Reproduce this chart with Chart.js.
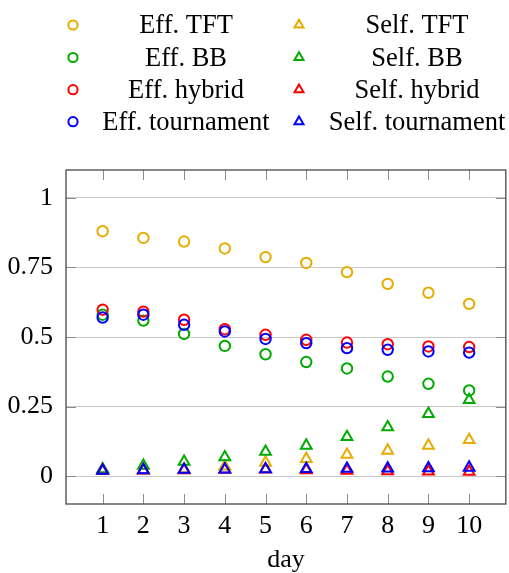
<!DOCTYPE html>
<html>
<head>
<meta charset="utf-8">
<script src="https://cdn.jsdelivr.net/npm/chart.js@4/dist/chart.umd.min.js"></script>
<style>
  html, body { margin: 0; padding: 0; background: #fff; overflow: hidden; }
  #wrap { width: 514px; height: 573px; }
</style>
</head>
<body>
<div id="wrap"><canvas id="chart" width="514" height="573"></canvas></div>
<script>
// data
const days = [1, 2, 3, 4, 5, 6, 7, 8, 9, 10];
const yTicks = [0, 0.25, 0.5, 0.75, 1];

const effTFT        = [0.880, 0.856, 0.843, 0.818, 0.787, 0.766, 0.733, 0.691, 0.659, 0.619];
const effBB         = [0.580, 0.559, 0.511, 0.468, 0.438, 0.410, 0.387, 0.358, 0.332, 0.308];
const effHybrid     = [0.598, 0.591, 0.562, 0.528, 0.508, 0.490, 0.480, 0.474, 0.466, 0.464];
const effTournament = [0.570, 0.580, 0.544, 0.520, 0.493, 0.478, 0.460, 0.454, 0.448, 0.444];

const selfTFT        = [0.020, 0.022, 0.025, 0.035, 0.049, 0.062, 0.077, 0.092, 0.110, 0.130];
const selfBB         = [0.025, 0.038, 0.052, 0.068, 0.088, 0.110, 0.141, 0.176, 0.224, 0.274];
const selfHybrid     = [0.020, 0.021, 0.022, 0.023, 0.024, 0.022, 0.020, 0.018, 0.017, 0.016];
const selfTournament = [0.020, 0.022, 0.023, 0.024, 0.025, 0.026, 0.027, 0.028, 0.029, 0.031];

const ORANGE = "#e6ad00";
const GREEN = "#00aa00";
const RED = "#ff0000";
const BLUE = "#0000ff";
const FONT = "'Liberation Serif', 'DejaVu Serif', serif";

function pts(vals){ return vals.map((v, i) => ({x: days[i], y: v})); }

function series(label, vals, color, style, idx){
  return {
    label,
    data: pts(vals),
    borderColor: color,
    backgroundColor: "rgba(0,0,0,0)",
    pointStyle: style,
    pointRadius: style === "circle" ? 5.2 : 6.2,
    pointBorderWidth: 2,
    showLine: false,
    order: 10 - idx // later series on top, as in the original
  };
}

const datasets = [
  series("Eff. TFT", effTFT, ORANGE, "circle", 0),
  series("Eff. BB", effBB, GREEN, "circle", 1),
  series("Eff. hybrid", effHybrid, RED, "circle", 2),
  series("Eff. tournament", effTournament, BLUE, "circle", 3),
  series("Self. TFT", selfTFT, ORANGE, "triangle", 4),
  series("Self. BB", selfBB, GREEN, "triangle", 5),
  series("Self. hybrid", selfHybrid, RED, "triangle", 6),
  series("Self. tournament", selfTournament, BLUE, "triangle", 7)
];

// frame, inward tick marks and the two-column legend
const framePlugin = {
  id: "frame",
  afterDatasetsDraw(chart){
    const {ctx, chartArea: a, scales: {x, y}} = chart;
    ctx.save();
    ctx.strokeStyle = "#8c8c8c";
    ctx.lineWidth = 1;
    ctx.beginPath();
    days.forEach(d => {
      const px = Math.round(x.getPixelForValue(d)) + 0.5;
      ctx.moveTo(px, a.bottom); ctx.lineTo(px, a.bottom - 10);
      ctx.moveTo(px, a.top); ctx.lineTo(px, a.top + 10);
    });
    yTicks.forEach(t => {
      const py = Math.round(y.getPixelForValue(t)) + 0.5;
      ctx.moveTo(a.left, py); ctx.lineTo(a.left + 10, py);
      ctx.moveTo(a.right, py); ctx.lineTo(a.right - 10, py);
    });
    ctx.stroke();
    ctx.strokeStyle = "#555";
    ctx.lineWidth = 1.4;
    ctx.strokeRect(a.left, a.top, a.right - a.left, a.bottom - a.top);
    ctx.restore();
  },
  afterDraw(chart){
    const ctx = chart.ctx;
    const cols = [{mark: 73, text: 186}, {mark: 299, text: 417}];
    const rows = [33, 65.5, 97.7, 129.7];
    ctx.save();
    ctx.font = "26.5px " + FONT;
    ctx.textAlign = "center";
    ctx.textBaseline = "alphabetic";
    chart.data.datasets.forEach((ds, i) => {
      const c = cols[Math.floor(i / 4)];
      const base = rows[i % 4];
      const cy = base - 8;
      ctx.strokeStyle = ds.borderColor;
      ctx.lineWidth = 2;
      ctx.beginPath();
      if (ds.pointStyle === "circle") {
        ctx.arc(c.mark, cy, 4.6, 0, Math.PI * 2);
      } else {
        const r = 5.2;
        ctx.moveTo(c.mark, cy - r);
        ctx.lineTo(c.mark + r * 0.866, cy + r / 2);
        ctx.lineTo(c.mark - r * 0.866, cy + r / 2);
        ctx.closePath();
      }
      ctx.stroke();
      ctx.fillStyle = "#000";
      ctx.fillText(ds.label, c.text, base);
    });
    ctx.restore();
  }
};

new Chart(document.getElementById("chart"), {
  type: "scatter",
  data: { datasets },
  plugins: [framePlugin],
  options: {
    responsive: false,
    devicePixelRatio: 1,
    animation: false,
    layout: { padding: { top: 170, right: 1, left: 0, bottom: 0 } },
    plugins: { legend: { display: false }, tooltip: { enabled: false } },
    scales: {
      x: {
        type: "linear",
        min: 0.1,
        max: 10.9,
        afterBuildTicks: s => { s.ticks = days.map(v => ({value: v})); },
        afterFit: s => { s.height = 69; },
        grid: { display: false },
        border: { display: false },
        ticks: { color: "#000", padding: -1, font: { family: FONT, size: 26 }, maxRotation: 0 },
        title: { display: true, text: "day", color: "#000", padding: { top: 0, bottom: -3 }, font: { family: FONT, size: 26 } }
      },
      y: {
        type: "linear",
        min: -0.1,
        max: 1.1,
        afterBuildTicks: s => { s.ticks = yTicks.map(v => ({value: v})); },
        afterFit: s => { s.width = 66; },
        grid: { color: "#c8c8c8", lineWidth: 1, drawTicks: false },
        border: { display: false },
        ticks: {
          color: "#000",
          padding: 13,
          font: { family: FONT, size: 26 },
          callback: v => String(v)
        }
      }
    }
  }
});
</script>
</body>
</html>
